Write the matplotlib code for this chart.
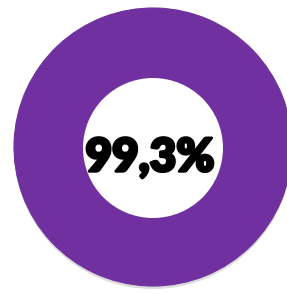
import matplotlib.pyplot as plt
import matplotlib.patheffects as pe

values = [99.3, 0.7]
label = "99,3%"
colors = ["#7030A0", "#7030A0"]

fig = plt.figure(figsize=(2.87, 2.95), dpi=100)
ax = fig.add_axes([0, 0, 1, 1])

# soft shadow under the ring
ax.pie([1], colors=["#dcdcdc"], center=(153, 150), radius=139,
       wedgeprops=dict(linewidth=0), frame=True)
ax.pie(values, colors=colors, center=(153, 147), radius=139, startangle=90,
       counterclock=False, wedgeprops=dict(linewidth=0.8, edgecolor="#7030A0"),
       frame=True)
ax.add_patch(plt.Circle((153, 148), 70, color="white", lw=0))

ax.set_xlim(0, 287)
ax.set_ylim(295, 0)
ax.set_aspect("equal")
ax.axis("off")

ax.text(150, 158, label, ha="center", va="center", fontsize=33,
        fontweight="heavy", family=["Lato", "DejaVu Sans"], color="black",
        path_effects=[pe.withStroke(linewidth=2, foreground="black")])

fig.savefig("out.png", dpi=100)
